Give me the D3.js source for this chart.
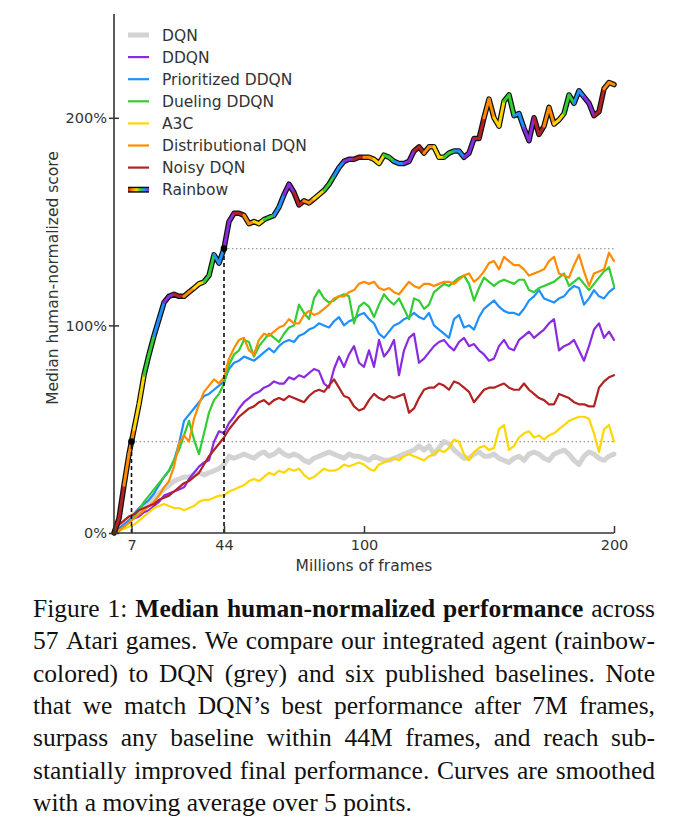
<!DOCTYPE html>
<html><head><meta charset="utf-8">
<script src="https://cdn.jsdelivr.net/npm/d3@7"></script>
<style>body{margin:0;background:#fff}</style>
</head><body><svg id="c" width="684" height="820"></svg>
<script>
// ---------- data ----------
const frames = d3.range(0, 201, 2); // millions of frames, sampled every 2M
const seriesNames = ["DQN","DDQN","Prioritized DDQN","Dueling DDQN","A3C","Distributional DQN","Noisy DQN","Rainbow"];
const seriesColors = ["#d3d3d3","#8a2be2","#1e90ff","#32cd32","#ffd700","#ff8c00","#b22222",null];
const rainbowColors = ["#b22222","#ff8c00","#ffd700","#32cd32","#1e90ff","#8a2be2"];

const dqn = [0,2,4,6,9,11,13,15,17,19, 21,23,25,26,27,27,28,29,28,29, 30,31,33,37,36,37,38,37,36,38,
  39,37,38,40,38,37,38,37,35,34, 36,37,38,39,38,37,36,38,37,37, 36,35,37,36,35,35,36,37,38,39,
  40,42,40,42,38,41,44,43,40,38, 36,36,38,39,37,37,38,36,35,34, 36,37,35,38,39,38,36,35,38,39,
  40,38,35,33,37,39,38,36,35,37, 38];
const ddqn = [0,2,4,6,7,8,10,11,13,15, 18,19,20,21,22,26,29,32,34,35, 44,49,48,53,56,60,63,65,67,68,
  70,71,73,72,72,75,74,76,75,77, 79,78,72,70,79,85,80,86,90,82, 80,88,80,93,85,88,93,76,88,94,
  96,82,84,87,90,92,93,90,88,92, 94,90,91,88,86,83,84,90,93,89, 88,93,95,97,94,96,98,101,103,88,
  90,91,93,88,83,90,98,101,94,97, 93];
const prioritized = [0,2,4,6,9,12,14,16,19,23, 27,30,35,43,54,57,60,63,66,67, 69,71,73,79,82,83,85,84,83,85,
  87,89,87,90,92,93,92,95,96,98, 99,101,100,99,102,104,100,102,103,105, 106,103,101,96,94,97,100,101,103,104,
  106,104,103,106,100,98,96,94,103,105, 99,100,98,104,108,110,112,109,107,106, 106,105,108,112,114,117,113,112,111,113,
  114,117,119,118,110,113,117,114,113,116, 118];
const dueling = [0,1,3,5,8,11,15,18,21,24, 27,30,35,40,47,54,45,38,48,58, 64,67,72,81,86,88,93,92,85,90,
  93,96,94,92,96,99,100,110,106,103, 113,117,113,111,112,114,115,114,101,109, 111,109,104,110,115,112,110,113,108,103,
  113,112,108,110,116,118,120,119,121,123, 124,120,112,118,123,121,119,121,122,121, 120,122,122,117,116,118,119,120,121,123,
  125,119,121,123,120,117,120,123,126,128, 119];
const a3c = [0,1,2,3,4,6,8,10,12,13, 14,13,12,12,11,12,13,15,16,16, 17,18,18,20,21,22,23,25,26,25,
  27,29,28,30,29,31,30,31,28,26, 27,29,31,30,30,31,33,32,33,34, 33,31,30,33,34,35,36,35,37,38,
  37,36,35,37,38,40,39,41,45,44, 38,35,39,41,42,40,41,50,52,40, 42,46,48,49,46,47,45,47,48,50,
  52,54,55,56,56,55,48,39,50,52, 44];
const distributional = [0,1,3,5,7,9,11,13,15,18, 22,25,32,43,47,44,55,62,68,71, 74,72,75,84,89,93,94,88,86,93,
  96,95,97,99,100,103,101,101,105,107, 105,106,108,110,113,114,114,116,117,120, 121,120,121,118,117,118,116,115,118,121,
  119,118,120,120,119,120,121,121,120,122, 124,125,121,123,126,130,131,127,133,131, 129,129,127,124,125,126,127,131,133,125,
  124,123,129,134,126,119,125,126,127,135, 131];
const noisy = [0,4,6,8,9,11,12,13,14,16, 17,18,20,22,24,25,27,29,33,37, 40,43,46,50,53,56,58,60,61,63,
  64,62,64,65,64,66,65,64,63,66, 68,69,68,71,74,70,66,65,61,59, 60,64,67,65,64,66,65,66,67,58,
  60,65,69,70,70,72,71,69,73,72, 70,68,63,66,69,70,70,71,72,70, 69,69,72,69,67,65,64,62,62,67,
  66,65,63,62,62,61,61,70,73,75, 76];
const rainbow = [0,7,23,38,50,62,76,86,95,103, 111,114,115,114,114,116,118,120,121,124, 134,130,137,150,154,154,153,149,150,149,
  151,152,153,157,163,168,164,158,160,159, 161,163,165,168,172,176,179,180,180,181, 181,181,180,178,182,181,179,178,178,179,
  184,186,183,186,186,181,181,183,184,184, 181,183,190,190,200,209,200,196,208,211, 201,202,195,189,200,192,196,205,197,199,
  202,211,207,213,210,207,201,203,214,217, 216];

const xTicks = [7, 44, 100, 200];
const yTicks = [0, 100, 200];
const markFrames = [7, 44];
const markValues = [44, 137];

const captionLines = [
  [["Figure 1: ",0],["Median human-normalized performance",1],[" across",0]],
  [["57 Atari games. We compare our integrated agent (rainbow-",0]],
  [["colored) to DQN (grey) and six published baselines. Note",0]],
  [["that we match DQN\u2019s best performance after 7M frames,",0]],
  [["surpass any baseline within 44M frames, and reach sub-",0]],
  [["stantially improved final performance. Curves are smoothed",0]],
  [["with a moving average over 5 points.",0]]
];

// ---------- drawing ----------
const svg = d3.select('#c');
const x = d3.scaleLinear().domain([0, 200]).range([114, 614]);
const y = d3.scaleLinear().domain([0, 250]).range([533, 14]);
const FONT = "DejaVu Sans";
const TXT = "#333";

const allSeries = [dqn, ddqn, prioritized, dueling, a3c, distributional, noisy];
const line = d3.line().x((d, i) => x(frames[i])).y(d => y(d));

// reference dotted lines
const gRef = svg.append('g');
markFrames.forEach((f, k) => {
  gRef.append('line').attr('x1', x(f)).attr('x2', x(200)).attr('y1', y(markValues[k])).attr('y2', y(markValues[k]))
    .attr('stroke', '#999').attr('stroke-width', 1.2).attr('stroke-dasharray', '1.5,2.5');
});

// baseline series
allSeries.forEach((s, k) => {
  svg.append('path').attr('d', line(s)).attr('fill', 'none')
    .attr('stroke', seriesColors[k]).attr('stroke-width', k === 0 ? 5 : 2.2)
    .attr('stroke-linejoin', 'round').attr('stroke-linecap', 'round');
});

// rainbow series
svg.append('path').attr('d', line(rainbow)).attr('fill', 'none').attr('stroke', '#111')
  .attr('stroke-width', 5.5).attr('stroke-linejoin', 'round').attr('stroke-linecap', 'round');
const gR = svg.append('g');
for (let i = 0; i < frames.length - 1; i++) {
  gR.append('line')
    .attr('x1', x(frames[i])).attr('y1', y(rainbow[i]))
    .attr('x2', x(frames[i + 1])).attr('y2', y(rainbow[i + 1]))
    .attr('stroke', rainbowColors[Math.floor(frames[i] / 4) % 6])
    .attr('stroke-width', 3).attr('stroke-linecap', 'round');
}

// vertical dashed lines and markers
markFrames.forEach((f, k) => {
  svg.append('line').attr('x1', x(f)).attr('x2', x(f)).attr('y1', y(0)).attr('y2', y(markValues[k]))
    .attr('stroke', '#111').attr('stroke-width', 1.6).attr('stroke-dasharray', '4,3');
  svg.append('circle').attr('cx', x(f)).attr('cy', y(markValues[k])).attr('r', 3.3).attr('fill', '#000');
});

// axes
const xAxis = svg.append('g').attr('transform', `translate(0,${y(0)})`)
  .call(d3.axisBottom(x).tickValues(xTicks).tickSizeInner(-7).tickSizeOuter(0).tickPadding(7));
const yAxis = svg.append('g').attr('transform', `translate(${x(0)},0)`)
  .call(d3.axisLeft(y).tickValues(yTicks).tickFormat(d => d + '%').tickSizeInner(0).tickSizeOuter(0).tickPadding(7));
yAxis.selectAll('.tick').append('line').attr('x1', -5).attr('x2', 5).attr('stroke', TXT).attr('stroke-width', 1.5);
[xAxis, yAxis].forEach(g => {
  g.select('.domain').attr('stroke', TXT).attr('stroke-width', 1.6);
  g.selectAll('.tick line').attr('stroke', TXT).attr('stroke-width', 1.5);
  g.selectAll('.tick text').attr('font-family', FONT).attr('font-size', 14.5).attr('fill', TXT);
});
yAxis.select('.domain').attr('d', `M0,${y(0)}V${y(250)}`);
xAxis.select('.domain').attr('d', `M${x(0)},0H${x(200)}`);

svg.append('text').attr('x', x(100)).attr('y', 571).attr('text-anchor', 'middle')
  .attr('font-family', FONT).attr('font-size', 15.5).attr('fill', TXT).text('Millions of frames');
svg.append('text').attr('transform', 'translate(58,278) rotate(-90)').attr('text-anchor', 'middle')
  .attr('font-family', FONT).attr('font-size', 15.5).attr('fill', TXT).text('Median human-normalized score');

// legend
const defs = svg.append('defs');
const grad = defs.append('linearGradient').attr('id', 'rb').attr('gradientUnits', 'userSpaceOnUse')
  .attr('x1', 128).attr('x2', 149).attr('y1', 0).attr('y2', 0);
rainbowColors.forEach((c, i) => grad.append('stop').attr('offset', i / 5).attr('stop-color', c));
const leg = svg.append('g');
seriesNames.forEach((n, k) => {
  const yy = 35 + k * 22.1;
  if (k === 7) {
    leg.append('line').attr('x1', 128).attr('x2', 149).attr('y1', yy).attr('y2', yy)
      .attr('stroke', '#111').attr('stroke-width', 6);
    leg.append('line').attr('x1', 128).attr('x2', 149).attr('y1', yy).attr('y2', yy)
      .attr('stroke', 'url(#rb)').attr('stroke-width', 3);
  } else {
    leg.append('line').attr('x1', 128).attr('x2', 149).attr('y1', yy).attr('y2', yy)
      .attr('stroke', seriesColors[k]).attr('stroke-width', k === 0 ? 5 : 2.2);
  }
  leg.append('text').attr('x', 162).attr('y', yy).attr('dy', '0.36em')
    .attr('font-family', FONT).attr('font-size', 15.5).attr('fill', TXT).text(n);
});

// caption (justified)
const cap = svg.append('g').attr('font-family', 'Liberation Serif, Times New Roman, serif')
  .attr('font-size', 25.5).attr('fill', '#111');
const LEFT = 33, RIGHT = 655;
captionLines.forEach((parts, li) => {
  const yy = 617 + li * 32.3;
  const words = [];
  parts.forEach(([t, b]) => t.split(' ').filter(w => w.length).forEach(w => words.push([w, b])));
  const els = words.map(([w, b]) => cap.append('text').attr('y', yy).attr('font-weight', b ? 'bold' : 'normal').text(w));
  const widths = els.map(e => e.node().getComputedTextLength());
  const total = d3.sum(widths);
  const last = li === captionLines.length - 1;
  const gap = last ? 25.5 * 0.25 : (RIGHT - LEFT - total) / (words.length - 1);
  let cx = LEFT;
  els.forEach((e, i) => { e.attr('x', cx); cx += widths[i] + gap; });
});
</script></body></html>
